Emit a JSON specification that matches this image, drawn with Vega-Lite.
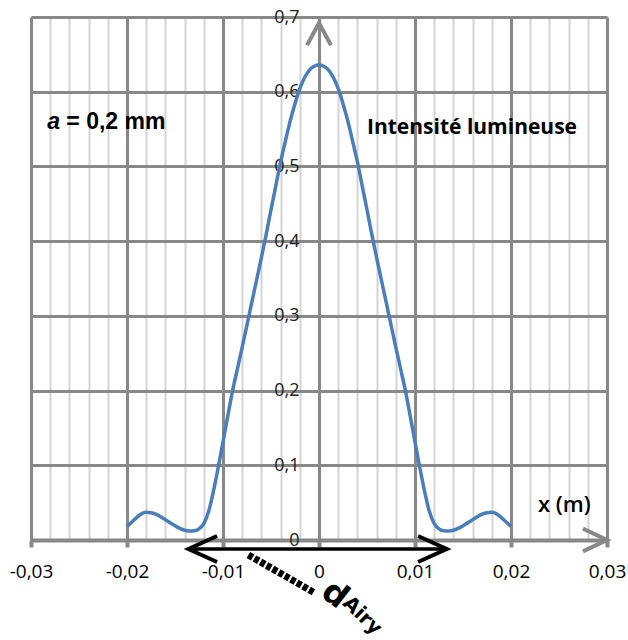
{
  "$schema": "https://vega.github.io/schema/vega-lite/v6.json",
  "width": 576,
  "height": 523,
  "autosize": {"type": "none"},
  "padding": {"left": 31, "top": 17, "right": 21, "bottom": 100},
  "background": "white",
  "config": {"view": {"stroke": null}, "font": "Open Sans"},
  "layer": [
    {
      "data": {"values": [
        {"x": -0.02, "y": 0.018}, {"x": -0.0195, "y": 0.024}, {"x": -0.019, "y": 0.030}, {"x": -0.0185, "y": 0.035},
        {"x": -0.018, "y": 0.037}, {"x": -0.0175, "y": 0.0365}, {"x": -0.017, "y": 0.0345}, {"x": -0.0165, "y": 0.031},
        {"x": -0.016, "y": 0.027}, {"x": -0.0155, "y": 0.023}, {"x": -0.015, "y": 0.019}, {"x": -0.0145, "y": 0.0155},
        {"x": -0.014, "y": 0.013}, {"x": -0.0135, "y": 0.012}, {"x": -0.013, "y": 0.0125}, {"x": -0.0125, "y": 0.015},
        {"x": -0.012, "y": 0.022}, {"x": -0.0115, "y": 0.038}, {"x": -0.011, "y": 0.065}, {"x": -0.0105, "y": 0.097},
        {"x": -0.01, "y": 0.131}, {"x": -0.0095, "y": 0.166}, {"x": -0.009, "y": 0.200}, {"x": -0.0085, "y": 0.229},
        {"x": -0.008, "y": 0.258}, {"x": -0.0075, "y": 0.288}, {"x": -0.007, "y": 0.318}, {"x": -0.0065, "y": 0.348},
        {"x": -0.006, "y": 0.378}, {"x": -0.0055, "y": 0.409}, {"x": -0.005, "y": 0.442}, {"x": -0.0045, "y": 0.474},
        {"x": -0.004, "y": 0.506}, {"x": -0.0035, "y": 0.534}, {"x": -0.003, "y": 0.561}, {"x": -0.0025, "y": 0.584},
        {"x": -0.002, "y": 0.604}, {"x": -0.0015, "y": 0.619}, {"x": -0.001, "y": 0.629}, {"x": -0.0005, "y": 0.634},
        {"x": 0, "y": 0.636},
        {"x": 0.0005, "y": 0.634}, {"x": 0.001, "y": 0.629}, {"x": 0.0015, "y": 0.619}, {"x": 0.002, "y": 0.604},
        {"x": 0.0025, "y": 0.584}, {"x": 0.003, "y": 0.561}, {"x": 0.0035, "y": 0.534}, {"x": 0.004, "y": 0.506},
        {"x": 0.0045, "y": 0.474}, {"x": 0.005, "y": 0.442}, {"x": 0.0055, "y": 0.409}, {"x": 0.006, "y": 0.378},
        {"x": 0.0065, "y": 0.348}, {"x": 0.007, "y": 0.318}, {"x": 0.0075, "y": 0.288}, {"x": 0.008, "y": 0.258},
        {"x": 0.0085, "y": 0.229}, {"x": 0.009, "y": 0.200}, {"x": 0.0095, "y": 0.166}, {"x": 0.01, "y": 0.131},
        {"x": 0.0105, "y": 0.097}, {"x": 0.011, "y": 0.065}, {"x": 0.0115, "y": 0.038}, {"x": 0.012, "y": 0.022},
        {"x": 0.0125, "y": 0.015}, {"x": 0.013, "y": 0.0125}, {"x": 0.0135, "y": 0.012}, {"x": 0.014, "y": 0.013},
        {"x": 0.0145, "y": 0.0155}, {"x": 0.015, "y": 0.019}, {"x": 0.0155, "y": 0.023}, {"x": 0.016, "y": 0.027},
        {"x": 0.0165, "y": 0.031}, {"x": 0.017, "y": 0.0345}, {"x": 0.0175, "y": 0.0365}, {"x": 0.018, "y": 0.037},
        {"x": 0.0185, "y": 0.035}, {"x": 0.019, "y": 0.030}, {"x": 0.0195, "y": 0.024}, {"x": 0.02, "y": 0.018}
      ]},
      "mark": {"type": "line", "interpolate": "monotone", "color": "#4a7ebb", "strokeWidth": 3.5},
      "encoding": {
        "x": {
          "field": "x", "type": "quantitative",
          "scale": {"domain": [-0.03, 0.03], "nice": false, "zero": false},
          "axis": {
            "title": null,
            "values": [-0.03, -0.028, -0.026, -0.024, -0.022, -0.02, -0.018, -0.016, -0.014, -0.012, -0.01, -0.008, -0.006, -0.004, -0.002, 0, 0.002, 0.004, 0.006, 0.008, 0.01, 0.012, 0.014, 0.016, 0.018, 0.02, 0.022, 0.024, 0.026, 0.028, 0.03],
            "tickCount": 100,
            "domain": true, "domainColor": "#888888", "domainWidth": 4,
            "grid": true,
            "gridColor": {"condition": {"test": "abs(datum.value*100-round(datum.value*100))<0.01", "value": "#888888"}, "value": "#d4d4d4"},
            "gridWidth": {"condition": {"test": "abs(datum.value*100-round(datum.value*100))<0.01", "value": 3}, "value": 2},
            "ticks": true, "tickSize": 7, "tickWidth": 4, "tickColor": "#888888",
            "tickOpacity": {"condition": {"test": "abs(datum.value*100-round(datum.value*100))<0.01", "value": 1}, "value": 0},
            "labelExpr": "abs(datum.value*100-round(datum.value*100))<0.01 ? replace(toString(round(datum.value*100)/100),'.',',') : ''",
            "labelFont": "Open Sans", "labelFontSize": 19, "labelColor": "#000000",
            "labelPadding": 15, "labelFlush": false, "labelOverlap": false
          }
        },
        "y": {
          "field": "y", "type": "quantitative",
          "scale": {"domain": [0, 0.7], "nice": false},
          "axis": {
            "title": null,
            "values": [0, 0.1, 0.2, 0.3, 0.4, 0.5, 0.6, 0.7],
            "tickCount": 100,
            "orient": "left", "offset": -288,
            "domain": false,
            "grid": true, "gridColor": "#888888", "gridWidth": 3,
            "ticks": true, "tickSize": 7, "tickWidth": 2, "tickColor": "#888888",
            "labelExpr": "replace(toString(round(datum.value*10)/10),'.',',')",
            "labelFont": "Open Sans", "labelFontSize": 18, "labelColor": "#222222",
            "labelPadding": 13, "labelOverlap": false, "labelFlush": false
          }
        }
      }
    },
    {
      "data": {"values": [{}]},
      "mark": {"type": "text", "text": "a", "font": "Liberation Sans", "fontStyle": "italic", "fontWeight": "bold", "fontSize": 23, "align": "left", "baseline": "middle", "color": "#000000"},
      "encoding": {"x": {"datum": -0.0283, "type": "quantitative"}, "y": {"datum": 0.56, "type": "quantitative"}}
    },
    {
      "data": {"values": [{}]},
      "mark": {"type": "text", "text": "= 0,2 mm", "font": "Liberation Sans", "fontWeight": "bold", "fontSize": 23, "align": "left", "baseline": "middle", "dx": 19, "color": "#000000"},
      "encoding": {"x": {"datum": -0.0283, "type": "quantitative"}, "y": {"datum": 0.56, "type": "quantitative"}}
    },
    {
      "data": {"values": [{}]},
      "mark": {"type": "text", "text": "Intensité lumineuse", "font": "Open Sans", "fontWeight": "bold", "fontSize": 21, "align": "left", "baseline": "middle", "color": "#000000"},
      "encoding": {"x": {"datum": 0.005, "type": "quantitative"}, "y": {"datum": 0.551, "type": "quantitative"}}
    },
    {
      "data": {"values": [{}]},
      "mark": {"type": "text", "text": "x (m)", "font": "Open Sans", "fontWeight": 600, "fontSize": 22, "align": "left", "baseline": "middle", "color": "#000000"},
      "encoding": {"x": {"datum": 0.0228, "type": "quantitative"}, "y": {"datum": 0.0467, "type": "quantitative"}}
    },
    {
      "data": {"values": [{}]},
      "mark": {"type": "point", "shape": "M-1,1.85L0,0L1,1.85", "size": 576, "filled": false, "stroke": "#888888", "strokeWidth": 4, "opacity": 1},
      "encoding": {"x": {"datum": 0, "type": "quantitative"}, "y": {"datum": 0.692, "type": "quantitative"}}
    },
    {
      "data": {"values": [{}]},
      "mark": {"type": "point", "shape": "M-2,-0.95L0,0L-2,0.95", "size": 576, "filled": false, "stroke": "#888888", "strokeWidth": 4, "opacity": 1},
      "encoding": {"x": {"datum": 0.03, "type": "quantitative"}, "y": {"datum": 0, "type": "quantitative"}}
    },
    {
      "data": {"values": [{}]},
      "mark": {"type": "rule", "color": "#000000", "strokeWidth": 3.5},
      "encoding": {"x": {"datum": -0.0135, "type": "quantitative"}, "x2": {"datum": 0.0132}, "y": {"datum": -0.012, "type": "quantitative"}}
    },
    {
      "data": {"values": [{}]},
      "mark": {"type": "point", "shape": "M2.2,-1L0,0L2.2,1", "size": 676, "filled": false, "stroke": "#000000", "strokeWidth": 4, "opacity": 1},
      "encoding": {"x": {"datum": -0.0136, "type": "quantitative"}, "y": {"datum": -0.012, "type": "quantitative"}}
    },
    {
      "data": {"values": [{}]},
      "mark": {"type": "point", "shape": "M-2.2,-1L0,0L-2.2,1", "size": 676, "filled": false, "stroke": "#000000", "strokeWidth": 4, "opacity": 1},
      "encoding": {"x": {"datum": 0.0133, "type": "quantitative"}, "y": {"datum": -0.012, "type": "quantitative"}}
    },
    {
      "data": {"values": [{}]},
      "mark": {"type": "rule", "color": "#000000", "strokeWidth": 7, "strokeDash": [5, 2], "strokeCap": "butt"},
      "encoding": {"x": {"datum": -0.00736, "type": "quantitative"}, "y": {"datum": -0.02, "type": "quantitative"}, "x2": {"datum": -0.00042}, "y2": {"datum": -0.0711}}
    },
    {
      "data": {"values": [{}]},
      "mark": {"type": "text", "text": "d", "font": "DejaVu Sans", "fontWeight": "bold", "fontSize": 33, "align": "center", "baseline": "middle", "angle": 38, "color": "#000000"},
      "encoding": {"x": {"datum": 0.00166, "type": "quantitative"}, "y": {"datum": -0.0733, "type": "quantitative"}}
    },
    {
      "data": {"values": [{}]},
      "mark": {"type": "text", "text": "Airy", "font": "DejaVu Sans", "fontWeight": "bold", "fontSize": 20, "align": "center", "baseline": "middle", "angle": 44, "color": "#000000"},
      "encoding": {"x": {"datum": 0.0045, "type": "quantitative"}, "y": {"datum": -0.1013, "type": "quantitative"}}
    }
  ]
}
